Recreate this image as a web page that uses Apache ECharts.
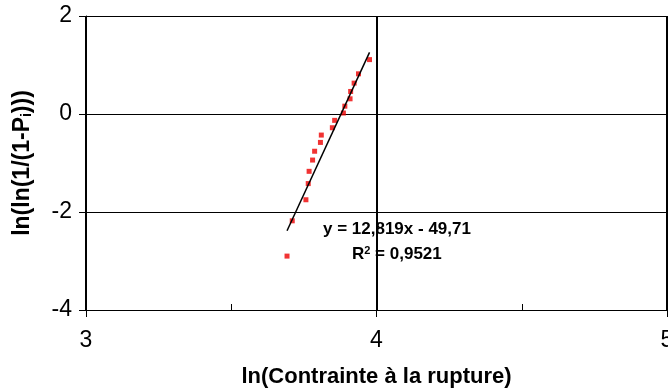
<!DOCTYPE html>
<html>
<head>
<meta charset="utf-8">
<script src="https://cdn.jsdelivr.net/npm/echarts@6/dist/echarts.min.js"></script>
<style>
  html, body { margin: 0; padding: 0; background: #fff; }
  #chart { width: 668px; height: 389px; }
</style>
</head>
<body>
<div id="chart"></div>
<script>
// ln(contrainte) et ln(ln(1/(1-Pi)))
const lnStress = [3.692, 3.710, 3.757, 3.765, 3.768, 3.780, 3.787, 3.807, 3.810,
                  3.848, 3.856, 3.886, 3.891, 3.909, 3.911, 3.923, 3.938, 3.976];
const weibullY = [-2.90, -2.18, -1.75, -1.42, -1.17, -0.94, -0.76, -0.58, -0.43,
                  -0.28, -0.13, 0.02, 0.16, 0.31, 0.46, 0.63, 0.82, 1.11];

// droite de tendance affichée
const trendSlope = 12.819;
const trendIntercept = -49.71;
const trendLabel = "y = 12,819x - 49,71";
const r2Label = "0,9521";

const xTicks = [3, 4, 5];
const yTicks = [-4, -2, 0, 2];

const FONT = '"Liberation Sans", Arial, sans-serif';

const points = lnStress.map((x, i) => [x, weibullY[i]]);
const xMin = Math.min(...lnStress);
const xMax = Math.max(...lnStress);
const trend = [xMin, xMax].map(x => [x, trendSlope * x + trendIntercept]);

const chart = echarts.init(document.getElementById("chart"), null, { renderer: "canvas" });

chart.setOption({
  animation: false,
  backgroundColor: "#fff",
  textStyle: { fontFamily: FONT },
  grid: { left: 86, top: 16, right: 1, bottom: 79, containLabel: false, outerBoundsMode: "none" },
  xAxis: [
    {
      type: "value",
      min: xTicks[0], max: xTicks[xTicks.length - 1], interval: 1,
      name: "ln(Contrainte à la rupture)",
      nameLocation: "middle", nameGap: 56,
      nameTextStyle: { fontFamily: FONT, fontWeight: "bold", fontSize: 22, color: "#000" },
      axisLine: { onZero: false, lineStyle: { color: "#000", width: 1 } },
      axisTick: { length: 7, lineStyle: { color: "#000" } },
      axisLabel: { fontFamily: FONT, fontSize: 23, color: "#000", margin: 19 },
      splitLine: { show: true, lineStyle: { color: "#000", width: 2 } }
    },
    {
      // graduations secondaires (0,5) tournées vers l'intérieur
      type: "value", position: "bottom",
      min: xTicks[0], max: xTicks[xTicks.length - 1], interval: 0.5,
      axisLine: { show: false, onZero: false },
      axisTick: { inside: true, length: 6, lineStyle: { color: "#000" } },
      axisLabel: { show: false },
      splitLine: { show: false }
    }
  ],
  yAxis: {
    type: "value",
    min: yTicks[0], max: yTicks[yTicks.length - 1], interval: 2,
    name: "ln(ln(1/(1-P{sub|i})))",
    nameLocation: "middle", nameGap: 52, nameRotate: 90,
    nameTextStyle: {
      fontFamily: FONT, fontWeight: "bold", fontSize: 23, color: "#000",
      rich: { sub: { fontFamily: FONT, fontWeight: "bold", fontSize: 14, color: "#000", verticalAlign: "bottom", padding: [8, 0, 0, 0] } }
    },
    axisLine: { show: true, onZero: false, lineStyle: { color: "#000", width: 1 } },
    axisTick: { show: true, length: 7, lineStyle: { color: "#000" } },
    axisLabel: { fontFamily: FONT, fontSize: 23, color: "#000", margin: 14 },
    splitLine: { show: true, lineStyle: { color: "#000", width: 1 } }
  },
  series: [
    {
      type: "scatter",
      data: points,
      symbol: "rect",
      symbolSize: 5,
      itemStyle: { color: "#ee0000" },
      z: 3
    },
    {
      type: "line",
      data: trend,
      symbol: "none",
      lineStyle: { color: "#000", width: 1.5 },
      z: 4
    }
  ],
  graphic: [
    {
      type: "text", left: 323, top: 221, z: 10,
      style: { text: trendLabel, fontFamily: FONT, fontWeight: "bold", fontSize: 17, fill: "#000" }
    },
    {
      type: "text", left: 352, top: 245, z: 10,
      style: {
        text: "R{sup|2} = " + r2Label,
        fontFamily: FONT, fontWeight: "bold", fontSize: 17, fill: "#000",
        rich: { sup: { fontFamily: FONT, fontWeight: "bold", fontSize: 11, fill: "#000", verticalAlign: "top", padding: [0, 0, 8, 0] } }
      }
    }
  ]
});
</script>
</body>
</html>
